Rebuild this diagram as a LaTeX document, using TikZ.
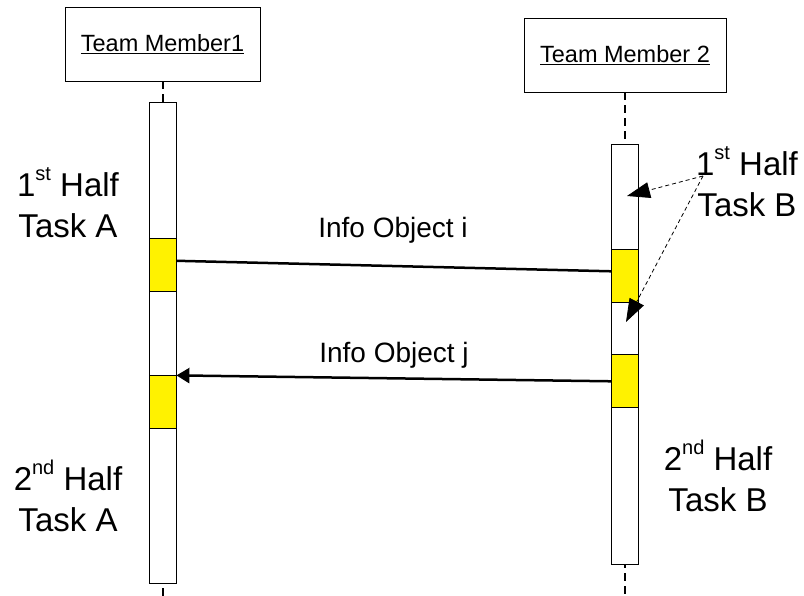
\documentclass[tikz,border=0pt]{standalone}
\usepackage{fontspec}
\setmainfont{Liberation Sans}
\usetikzlibrary{arrows.meta,positioning}
\newcommand{\ordsup}[1]{\raisebox{16pt}{\fontsize{20}{20}\selectfont #1}}
\tikzset{
  myhead/.style = {rectangle, draw, line width=0.8pt, inner sep=0pt, font=\fontsize{23.5}{28}\selectfont},
  mybar/.style = {rectangle, draw, fill=white, line width=0.8pt, minimum width=27pt, inner sep=0pt},
  myact/.style = {rectangle, draw, fill=yellow, line width=0.8pt, minimum width=27pt, minimum height=53pt, inner sep=0pt},
  mylife/.style = {dash pattern=on 8pt off 5pt, line width=2pt},
  mymsg/.style = {line width=2.5pt},
  mynote/.style = {align=center, inner sep=0pt, font=\fontsize{33}{41}\selectfont},
  mylabel/.style = {inner sep=0pt, font=\fontsize{28}{32}\selectfont},
  mypointer/.style = {dash pattern=on 4pt off 3pt, line width=0.8pt, -{Triangle[length=23pt,width=16pt]}},
}

\begin{document}
\begin{tikzpicture}[x=1pt, y=1pt]
\useasboundingbox (0,0) rectangle (804,596);
\node[myhead, minimum width=195pt, minimum height=74pt] (mem1) at (162.5,552) {\underline{Team Member1}};
\node[myhead, minimum width=202pt, minimum height=74pt] (mem2) at (625,541) {\underline{Team Member 2}};
\coordinate (end1) at (162.5,0);
\coordinate (end2) at (625,0);
\draw[mylife] (mem1.south) -- (end1);
\draw[mylife] (mem2.south) -- (end2);
\node[mybar, minimum height=481pt, below=21pt of mem1] (bar1) {};
\node[mybar, minimum height=420pt, below=52pt of mem2] (bar2) {};
\node[myact, below=136pt of bar1.north] (act1a) {};
\node[myact, below=273pt of bar1.north] (act1b) {};
\node[myact, below=105pt of bar2.north] (act2a) {};
\node[myact, below=210pt of bar2.north] (act2b) {};
\draw[mymsg] ([yshift=4.5pt]act1a.east) -- ([yshift=5pt]act2a.west);
\draw[mymsg, -{Triangle[length=13pt,width=15pt]}] (act2b.west) -- (act1b.north east);
\node[mylabel, anchor=base] (msgi) at (393,358) {Info Object i};
\node[mylabel, anchor=base] (msgj) at (394,233) {Info Object j};
\node[mynote, anchor=base] (noteA1) at (68,358) {1\ordsup{st} Half\\Task A};
\node[mynote, anchor=base] (noteA2) at (68,64) {2\ordsup{nd} Half\\Task A};
\node[mynote, anchor=base] (noteB1) at (747,379) {1\ordsup{st} Half\\Task B};
\node[mynote, anchor=base] (noteB2) at (718,84) {2\ordsup{nd} Half\\Task B};
% pointers from the note to bar 2
\coordinate (ptr) at (703,420);
\coordinate (tipA) at (627,400);
\coordinate (tipB) at (626,274);
\draw[mypointer] (ptr) -- (tipA);
\draw[mypointer] (ptr) -- (tipB);
\end{tikzpicture}
\end{document}
